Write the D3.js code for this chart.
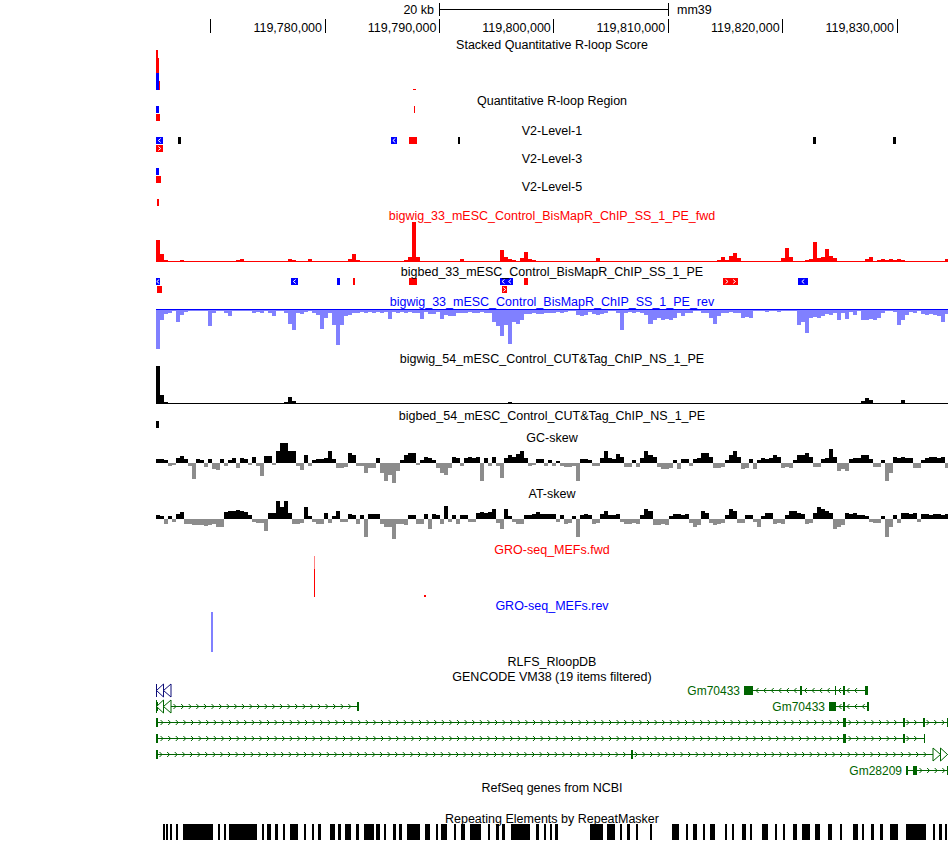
<!DOCTYPE html>
<html>
<head>
<meta charset="utf-8">
<script src="https://cdn.jsdelivr.net/npm/d3@7/dist/d3.min.js"></script>
<style>
html,body{margin:0;padding:0;background:#fff;}
svg{display:block;}
text{font-family:"Liberation Sans",Arial,Helvetica,sans-serif;font-size:12.5px;}
</style>
</head>
<body>
<svg id="chart" width="950" height="841"></svg>
<script>
// ---------------- DATA ----------------
const VIEW_START = 119765270, VIEW_END = 119834500;   // mm39 chr window
const BIN = 350;                                         // bp per signal bin
const rulerTicks  = [119770000,119780000,119790000,119800000,119810000,119820000,119830000];
const rulerLabels = ["","119,780,000","119,790,000","119,800,000","119,810,000","119,820,000","119,830,000"];
const scaleBar = [119790000,119810000];
const scaleBarLabel = "20 kb", assembly = "mm39";

// Stacked Quantitative R-loop Score
const stackStart = [119765185,119765270,119765360,119765445,119765530,119787700];
const stackEnd   = [119765270,119765360,119765445,119765530,119765620,119787960];
const stackRev   = [21,17,17,17,0,0];
const stackFwd   = [0,23,23,15,9,1];

// BED tracks: s,e,strand, cls (F = fwd R-loop, R = rev R-loop, N = unstranded), row
const qRegion = [
 {s:119765270,e:119765530,strand:".",cls:"R",row:0},
 {s:119765270,e:119765620,strand:".",cls:"F",row:1},
 {s:119787830,e:119787920,strand:".",cls:"F",row:0}];
const v2Level1 = [
 {s:119765270,e:119765880,strand:"-",cls:"R",row:0},
 {s:119767190,e:119767460,strand:".",cls:"N",row:0},
 {s:119785820,e:119786340,strand:"-",cls:"R",row:0},
 {s:119787390,e:119788090,strand:".",cls:"F",row:0},
 {s:119791670,e:119791850,strand:".",cls:"N",row:0},
 {s:119822700,e:119822970,strand:".",cls:"N",row:0},
 {s:119829700,e:119829960,strand:".",cls:"N",row:0},
 {s:119765270,e:119765880,strand:"+",cls:"F",row:1}];
const v2Level3 = [
 {s:119765270,e:119765530,strand:".",cls:"R",row:0},
 {s:119765270,e:119765710,strand:".",cls:"F",row:1}];
const v2Level5 = [
 {s:119765380,e:119765490,strand:".",cls:"F",row:0}];
const bed33 = [
 {s:119765270,e:119765620,strand:"-",cls:"R",row:0},
 {s:119777070,e:119777690,strand:"-",cls:"R",row:0},
 {s:119781100,e:119781360,strand:".",cls:"R",row:0},
 {s:119782490,e:119782670,strand:".",cls:"F",row:0},
 {s:119787390,e:119788090,strand:".",cls:"F",row:0},
 {s:119795340,e:119796480,strand:"-",cls:"R",row:0},
 {s:119797440,e:119797790,strand:".",cls:"F",row:0},
 {s:119814840,e:119816150,strand:"+",cls:"F",row:0},
 {s:119821390,e:119822270,strand:"-",cls:"R",row:0},
 {s:119765360,e:119765790,strand:".",cls:"F",row:1},
 {s:119795520,e:119795960,strand:"+",cls:"F",row:1}];
const bed54 = [
 {s:119765270,e:119765530,strand:".",cls:"N",row:0}];

// bigwig_33 fwd (350 bp bins)
const fwd33 = [22,8,2,1.5,1.5,1,2.5,0.5,0.3,0.3,
 0.3,0.3,0.3,0.3,0.5,0.3,0.5,1,1,0.5,
 2.5,3.3,1.5,0.3,1.5,1.2,0.5,0.5,1.5,1,
 0.3,1,0.5,3,2,0.5,0.5,1.5,3.5,0.5,
 1.5,1.5,1,1.5,1.5,1.2,0.5,0.5,3,8,
 2,0.3,0.3,0.3,0.5,0.3,1.5,1.5,1,0.3,
 0.3,0.5,2,5,40,5,1.5,0.5,0.3,0.3,
 0.3,0.3,0.3,0.5,0.3,0.5,3.5,1,0.3,0.3,
 0.3,0.3,0.5,1.5,1,1.5,12,5,3,2.5,
 1,4,10,3,2,0.5,0.5,1,0.5,0.3,
 0.5,0.3,0.5,0.3,0.3,0.3,0.5,1.5,0.5,1.5,
 4,1.5,0.3,0.3,0.3,0.5,0.3,0.3,1.5,1.5,
 1,0.3,0.5,0.3,0.3,0.3,0.5,1,1.5,1.5,
 1,0.3,1,0.3,0.3,0.5,0.3,0.5,0.3,0.5,
 2,5,2,6,9,4,0.3,0.3,0.3,1.5,
 1,0.3,0.3,0.5,0.3,0.5,4,14,5,1,
 0.3,0.5,2,3,20,4,5,13,6,4,
 1,0.3,1,0.3,1,0.5,1.5,3,5,1.5,
 2,3,2,3,2.5,3,2.5,1,1.5,0.5,
 1,0.3,0.3,0.3,1.5,0.5,0.3,3];
// bigwig_33 rev (magnitude)
const rev33 = [39,10,4,3,1,12,5,2,1,0.5,
 0.5,0.5,0.5,16,3,1,0.5,3,6,1,
 0.5,0.5,0.5,0.5,3,2,3,0.5,3,6,
 1,0.5,3,14,20,3,4,2,1,3,
 5,19,8,3,15,35,15,6,5,3,
 3,2,3,2,3,2,3,2,9,2,
 3,2,3,2,3,3,9,2,4,4,
 2,9,5,6,6,3,3,3,2,3,
 3,2,3,3,12,16,26,15,34,12,
 14,10,4,4,3,4,4,3,3,3,
 2,3,2,1,1,5,6,5,2,4,
 5,4,3,1,1,3,20,3,2,3,
 2,3,5,14,10,8,10,9,10,8,
 3,6,3,3,1,1,3,3,8,14,
 6,3,3,2,3,3,8,7,8,1,
 0.5,0.5,2,0.5,0.5,2,0.5,0.5,0.5,1,
 15,12,23,8,7,8,6,4,5,3,
 10,3,9,2,5,1,10,10,9,10,
 8,3,0.5,0.5,2,15,10,5,2,3,
 1,4,5,4,5,6,12,4];
// bigwig_54 CUT&Tag
const cut54 = [38,9,2,0.5,1,0,0,0,0,0,
 0,0,0,0,0,0,0,0,0,0,
 0,0,0,0,0,0,0,0,0,0,
 0,0,2,7,3,1,0,0,0,0,
 0.5,0,0,0.5,0,0,0,0,0,0.5,
 0,0,0,0,0,0,0,0,0.5,0,
 0,0,0,0,1,0.5,0,0,0,0,
 0,0,0,0,0,0,0,0,0,0,
 0,0,0,0,0,0,1,0,2.5,1.5,
 0.5,0,0,0,0,0,0,0.5,0,0,
 0,0,0,0,0,0,0,0,0,0,
 0.5,0,0,0,0,0,0,0,0,0,
 0.5,0,0,0,0,0,0,0,0,0,
 1,0,0,0,0,0,0,0,0,0,
 0,0.5,0,0,0,0,0,0,0,0,
 0,0,0.5,0,0,0,0,0,0,0,
 0.5,0,0,0,0,0,0,0,0,0,
 0,0,0,0,0,0,3,6,4,1,
 0,0,0,0,0,0,4,1,0,0,
 0,0,0,0,0,0,0,0];
// GC-skew
const gcSkew = [4,4,3,-3,-2,5,7,4,-3,-16,
 4,3,-4,4,-6,-7,4,-3,3,5,
 -5,5,4,-2,6,-3,-13,7,7,-2,
 12,20,20,12,12,-3,-7,8,-3,3,
 4,4,5,12,4,-5,-5,-4,10,8,
 -3,-3,-10,-5,-5,5,-10,-18,-12,-20,
 -8,3,8,10,10,-2,3,6,5,3,
 -5,-10,-12,-5,6,5,-3,5,6,5,
 6,-18,5,-3,6,-3,-15,5,8,6,
 9,12,5,-3,-2,4,4,-3,3,-3,
 2,-3,-4,-4,-3,-18,4,4,3,-3,
 -3,5,12,5,4,9,6,-4,-4,3,
 -4,5,12,8,6,-4,-6,-6,-5,3,
 -6,4,4,-3,4,5,10,10,6,-5,
 -5,-4,3,8,12,6,-6,-5,4,-6,
 3,5,4,5,8,6,-5,-4,-5,3,
 8,8,10,6,-4,-4,4,5,14,6,
 -8,-6,-8,4,5,5,8,8,4,-4,
 -4,3,-18,-10,6,5,6,5,5,-5,
 -5,3,5,6,6,5,6,-5];
// AT-skew
const atSkew = [4,3,-5,3,-3,5,7,-5,-5,-6,
 -6,-6,-7,-6,-5,-8,-8,7,8,8,
 9,8,7,4,-3,-4,-4,-12,6,6,
 18,12,18,6,-5,-5,-4,12,3,-3,
 -5,-5,6,-4,3,8,-3,-3,5,4,
 -5,4,-18,5,5,5,-5,-8,-8,-20,
 -5,-5,-6,4,4,-5,-5,5,-10,5,
 4,-5,13,-3,4,-5,4,4,-3,-3,
 6,7,6,7,10,-4,-10,10,3,-3,
 -5,-5,4,4,5,7,5,5,5,5,
 -3,4,-5,-4,3,-18,4,5,4,-5,
 -4,5,8,4,4,5,-3,-5,-5,-4,
 -5,4,10,8,-6,-6,-5,-6,3,5,
 5,4,5,-4,-8,-6,8,6,-4,-6,
 -5,-4,4,10,8,-4,-4,4,4,-3,
 -8,3,6,6,-5,-4,-5,4,8,8,
 6,5,-5,-4,6,12,10,8,6,-10,
 -8,-6,6,5,6,4,4,3,-3,-4,
 -4,3,-18,-8,4,-4,6,6,5,6,
 -3,5,5,4,5,5,4,5];
// GRO-seq (sparse signal: start, end, max, mean)
const groFwdStart = [119779040,119788700], groFwdEnd = [119779130,119788870];
const groFwdMax = [41,2], groFwdMean = [28,2];
const groRevStart = [119770040], groRevEnd = [119770215];
const groRevMax = [40], groRevMean = [0];

// GENCODE VM38 transcripts
const gencode = [
 {name:"", type:"coding", strand:"-", row:0, txS:119764600, txE:119765270, exons:[[119764600,119765270]]},
 {name:"Gm70433", type:"lnc", strand:"-", row:0, txS:119816670, txE:119827510,
   exons:[[119816670,119817460],[119821600,119821690],[119824590,119824670],[119825330,119825410],[119827250,119827510]]},
 {name:"", type:"lnc", strand:"+", row:1, txS:119760000, txE:119783020, exons:[[119760000,119765450],[119782840,119783020]]},
 {name:"Gm70433", type:"lnc", strand:"-", row:1, txS:119824100, txE:119827510,
   exons:[[119824100,119824710],[119825330,119825410],[119827420,119827510]]},
 {name:"", type:"lnc", strand:"+", row:2, txS:119765270, txE:119834500,
   exons:[[119765270,119765450],[119825330,119825590],[119830570,119830660],[119832320,119832410],[119834410,119834500]]},
 {name:"", type:"lnc", strand:"+", row:3, txS:119765270, txE:119832490,
   exons:[[119765270,119765450],[119825330,119825590],[119830570,119830660],[119832400,119832490]]},
 {name:"", type:"lnc", strand:"+", row:4, txS:119765270, txE:119840000,
   exons:[[119765270,119765360],[119806830,119806910]]},
 {name:"Gm28209", type:"lnc", strand:"+", row:5, txS:119830830, txE:119834500,
   exons:[[119830830,119830920],[119831440,119831790],[119834410,119834500]]}];

// RepeatMasker elements
const rmskStart = [119765880,119766140,119766490,119767020,119767630,119770690,119771210,119771650,119774540,119774970,119775670,119776370,119776980,119778210,119778910,119779430,119780480,119781180,119781790,119782750,119783450,119784500,119785200,119785990,119786510,119787210,119788780,119789740,119790180,119791320,119791930,119792720,119794290,119794990,119795510,119796300,119798490,119799190,119799710,119800150,119803210,119804690,119805830,119806440,119807230,119808450,119810370,119811600,119812210,119813080,119813700,119815010,119815620,119816490,119817190,119818240,119819380,119820080,119820950,119821740,119822870,119824010,119825060,119826190,119826980,119827770,119828550,119829430,119830830,119833190,119833710,119834240];
const rmskEnd = [119766060,119766320,119766670,119767190,119770250,119770860,119771390,119774100,119774710,119775320,119775930,119776550,119777680,119778380,119779080,119779690,119780920,119781440,119782310,119783010,119784330,119784850,119785370,119786250,119786770,119788350,119789220,119789920,119790710,119791490,119792280,119793680,119794460,119795250,119795780,119797960,119798750,119799360,119799880,119800410,119804340,119805390,119806000,119806700,119807400,119808630,119810990,119811770,119812560,119813260,119814130,119815180,119815790,119816840,119817370,119818760,119819550,119820250,119821300,119822440,119823310,119824360,119825230,119826630,119827160,119828030,119828820,119830130,119832580,119833360,119833970,119834410];

// Track titles
const titles = [
 {t:"Stacked Quantitative R-loop Score", y:48.5, c:"#000"},
 {t:"Quantitative R-loop Region", y:104.5, c:"#000"},
 {t:"V2-Level-1", y:134.5, c:"#000"},
 {t:"V2-Level-3", y:162.5, c:"#000"},
 {t:"V2-Level-5", y:190.5, c:"#000"},
 {t:"bigwig_33_mESC_Control_BisMapR_ChIP_SS_1_PE_fwd", y:219.5, c:"#ff0000"},
 {t:"bigbed_33_mESC_Control_BisMapR_ChIP_SS_1_PE", y:275.5, c:"#000"},
 {t:"bigwig_33_mESC_Control_BisMapR_ChIP_SS_1_PE_rev", y:306, c:"#0000ff"},
 {t:"bigwig_54_mESC_Control_CUT&Tag_ChIP_NS_1_PE", y:363, c:"#000"},
 {t:"bigbed_54_mESC_Control_CUT&Tag_ChIP_NS_1_PE", y:420, c:"#000"},
 {t:"GC-skew", y:441.5, c:"#000"},
 {t:"AT-skew", y:498, c:"#000"},
 {t:"GRO-seq_MEFs.fwd", y:553.5, c:"#ff0000"},
 {t:"GRO-seq_MEFs.rev", y:610, c:"#0000ff"},
 {t:"RLFS_RloopDB", y:665.5, c:"#000"},
 {t:"GENCODE VM38 (19 items filtered)", y:680.5, c:"#000"},
 {t:"RefSeq genes from NCBI", y:791.5, c:"#000"},
 {t:"Repeating Elements by RepeatMasker", y:822.5, c:"#000"}];

// ---------------- DRAWING ----------------
const svg = d3.select("#chart");
const x = d3.scaleLinear().domain([VIEW_START, VIEW_END]).range([156, 948]);
const [X0, X1] = x.range();
svg.append("defs").append("clipPath").attr("id","clip")
  .append("rect").attr("x",X0).attr("y",0).attr("width",X1-X0).attr("height",841);
const G = svg.append("g").attr("clip-path","url(#clip)").attr("shape-rendering","crispEdges");
const clsColor = {F:"#ff0000", R:"#0000ff", N:"#000000"};
const geneColor = {coding:"#0c0c78", lnc:"#006400"};

// ruler
const axis = d3.axisBottom(x).tickValues(rulerTicks).tickSize(14).tickFormat((d,i)=>rulerLabels[i]);
const ax = svg.append("g").attr("transform","translate(0,19)").attr("shape-rendering","crispEdges").call(axis);
ax.select(".domain").remove();
ax.selectAll(".tick line").attr("stroke","#000");
ax.selectAll(".tick text").attr("x",-3).attr("y",12.5).attr("dy",0)
  .attr("text-anchor","end").attr("fill","#000");
const sb = svg.append("g").attr("shape-rendering","crispEdges").attr("stroke","#000");
sb.append("line").attr("x1",Math.round(x(scaleBar[0]))+0.5).attr("x2",Math.round(x(scaleBar[1]))+0.5).attr("y1",9.5).attr("y2",9.5);
sb.selectAll("line.e").data(scaleBar).join("line").attr("class","e")
  .attr("x1",d=>Math.round(x(d))+0.5).attr("x2",d=>Math.round(x(d))+0.5).attr("y1",3).attr("y2",16);
svg.append("text").attr("x",Math.round(x(scaleBar[0]))-5).attr("y",13.5).attr("text-anchor","end").text(scaleBarLabel);
svg.append("text").attr("x",Math.round(x(scaleBar[1]))+9).attr("y",13.5).text(assembly);

// titles
svg.append("g").selectAll("text").data(titles).join("text")
  .attr("x",(X0+X1)/2).attr("y",d=>d.y).attr("text-anchor","middle").attr("fill",d=>d.c).text(d=>d.t);

// stacked score
const yStack = d3.scaleLinear().domain([0,40]).range([90,50]);
const stk = stackStart.map((s,i)=>({s, e:stackEnd[i], r:stackRev[i], f:stackFwd[i]}));
G.append("g").selectAll("rect").data(stk).join("rect")
  .attr("x",d=>x(d.s)).attr("width",d=>x(d.e)-x(d.s))
  .attr("y",d=>yStack(d.r)).attr("height",d=>yStack(0)-yStack(d.r)).attr("fill","#0000ff");
G.append("g").selectAll("rect").data(stk).join("rect")
  .attr("x",d=>x(d.s)).attr("width",d=>x(d.e)-x(d.s))
  .attr("y",d=>yStack(d.r+d.f)).attr("height",d=>yStack(d.r)-yStack(d.r+d.f)).attr("fill","#ff0000");

// BED tracks
function bedTrack(items, top) {
  const h = 7, pitch = 8;
  const g = G.append("g");
  g.selectAll("rect").data(items).join("rect")
    .attr("x",d=>x(d.s)).attr("width",d=>Math.max(1,x(d.e)-x(d.s)))
    .attr("y",d=>top+d.row*pitch).attr("height",h).attr("fill",d=>clsColor[d.cls]);
  const chev = [];
  items.filter(d=>d.strand!==".").forEach(d=>{
    const a = x(d.s), b = x(d.e), w = b-a, n = Math.max(1, Math.floor(w/6));
    const cy = top+d.row*pitch+3.5;
    for (let k=0;k<n;k++) chev.push({cx: a + w*(k+0.5)/n, cy, st:d.strand});
  });
  g.selectAll("path").data(chev).join("path")
    .attr("d",c=>{const s = c.st==="+"?1:-1; return `M${c.cx-s*1.2},${c.cy-2} L${c.cx+s*1.2},${c.cy} L${c.cx-s*1.2},${c.cy+2}`;})
    .attr("fill","none").attr("stroke","#fff").attr("stroke-width",1).attr("shape-rendering","auto");
}
bedTrack(qRegion,106);
bedTrack(v2Level1,137);
bedTrack(v2Level3,168);
bedTrack(v2Level5,199);
bedTrack(bed33,278);
bedTrack(bed54,421);

// binned wiggle bars
function wig(vals, ys, colorFn) {
  const y0 = ys(0);
  G.append("g").selectAll("rect").data(vals).join("rect")
    .attr("x",(d,i)=>x(VIEW_START+i*BIN)).attr("width",(d,i)=>x(VIEW_START+(i+1)*BIN)-x(VIEW_START+i*BIN))
    .attr("y",d=>Math.min(ys(d),y0)).attr("height",d=>Math.abs(ys(d)-y0))
    .attr("fill",colorFn);
}
const yFwd = d3.scaleLinear().domain([0,40]).range([262,222]);
wig(fwd33, yFwd, ()=>"#ff0000");
G.append("rect").attr("x",X0).attr("width",X1-X0).attr("y",yFwd(0)-1).attr("height",1).attr("fill","#ff0000");

const yRev = d3.scaleLinear().domain([0,40]).range([310,350]);
wig(rev33, yRev, ()=>"#8080ff");
G.append("rect").attr("x",X0).attr("width",X1-X0).attr("y",yRev(0)-1).attr("height",1).attr("fill","#0000ff");

const yCut = d3.scaleLinear().domain([0,40]).range([404,364]);
wig(cut54, yCut, ()=>"#000");
G.append("rect").attr("x",X0).attr("width",X1-X0).attr("y",yCut(0)-1).attr("height",1).attr("fill","#000");

const yGC = d3.scaleLinear().domain([-21,21]).range([484,442]);
wig(gcSkew, yGC, d=>d>=0?"#000":"#8c8c8c");
const yAT = d3.scaleLinear().domain([-21,21]).range([540,498]);
wig(atSkew, yAT, d=>d>=0?"#000":"#8c8c8c");

// GRO-seq
const yGroF = d3.scaleLinear().domain([0,41]).range([597,556]);
const groF = groFwdStart.map((s,i)=>({s,e:groFwdEnd[i],mx:groFwdMax[i],mn:groFwdMean[i]}));
const gf = G.append("g");
gf.selectAll("rect.mx").data(groF).join("rect").attr("class","mx")
  .attr("x",d=>x(d.s)).attr("width",d=>x(d.e)-x(d.s)).attr("y",d=>yGroF(d.mx)).attr("height",d=>yGroF(0)-yGroF(d.mx)).attr("fill","#ff8080");
gf.selectAll("rect.mn").data(groF).join("rect").attr("class","mn")
  .attr("x",d=>x(d.s)).attr("width",d=>x(d.e)-x(d.s)).attr("y",d=>yGroF(d.mn)).attr("height",d=>yGroF(0)-yGroF(d.mn)).attr("fill","#ff0000");
const yGroR = d3.scaleLinear().domain([0,40]).range([612,652]);
const groR = groRevStart.map((s,i)=>({s,e:groRevEnd[i],mx:groRevMax[i],mn:groRevMean[i]}));
const gr = G.append("g");
gr.selectAll("rect.mx").data(groR).join("rect").attr("class","mx")
  .attr("x",d=>x(d.s)).attr("width",d=>x(d.e)-x(d.s)).attr("y",yGroR(0)).attr("height",d=>yGroR(d.mx)-yGroR(0)).attr("fill","#8080ff");
gr.selectAll("rect.mn").data(groR).join("rect").attr("class","mn")
  .attr("x",d=>x(d.s)).attr("width",d=>x(d.e)-x(d.s)).attr("y",yGroR(0)).attr("height",d=>yGroR(d.mn)-yGroR(0)).attr("fill","#0000ff");

// GENCODE genes
const rowY = r => 690 + 16*r;
const gg = G.append("g");
gencode.forEach(gn=>{
  const col = geneColor[gn.type], cy = rowY(gn.row);
  const a = Math.max(X0, x(gn.txS)), b = Math.min(X1, x(gn.txE));
  const grp = gg.append("g");
  if (b > a) grp.append("rect").attr("x",a).attr("width",b-a).attr("y",cy).attr("height",1).attr("fill",col);
  // intron chevrons along every visible line segment not covered by an exon
  const ex = gn.exons.map(e=>[x(e[0]),x(e[1])]).sort((p,q)=>p[0]-q[0]);
  const marks = [];
  let cur = a;
  const leftNav = gn.txS < VIEW_START, rightNav = gn.txE > VIEW_END;
  const lim0 = leftNav ? X0+15 : a, lim1 = rightNav ? X1-15 : b;
  const gaps = [];
  ex.forEach(e=>{ if (e[0] > cur) gaps.push([cur, e[0]]); cur = Math.max(cur, e[1]); });
  if (cur < b) gaps.push([cur, b]);
  gaps.forEach(([s0,s1])=>{
    s0 = Math.max(s0, lim0); s1 = Math.min(s1, lim1);
    for (let p = s0+4; p < s1-3; p += 7.6) marks.push(p);
  });
  const sg = gn.strand==="+"?1:-1;
  grp.selectAll("path.ch").data(marks).join("path").attr("class","ch")
    .attr("d",p=>`M${p-sg*1.5},${cy-2} L${p+sg*1},${cy+0.5} L${p-sg*1.5},${cy+3}`)
    .attr("fill","none").attr("stroke",col).attr("stroke-width",1).attr("shape-rendering","auto");
  grp.selectAll("rect.ex").data(gn.exons).join("rect").attr("class","ex")
    .attr("x",e=>x(e[0])).attr("width",e=>Math.max(1.5,x(e[1])-x(e[0])))
    .attr("y",cy-4).attr("height",9).attr("fill",col);
  // navigation arrows for items running off screen
  const tri = [];
  if (leftNav) tri.push(`M${X0+7.5},${cy-6} L${X0+0.5},${cy+0.5} L${X0+7.5},${cy+7} Z`, `M${X0+15},${cy-6} L${X0+7.5},${cy+0.5} L${X0+15},${cy+7} Z`);
  if (rightNav) tri.push(`M${X1-15},${cy-6} L${X1-7.5},${cy+0.5} L${X1-15},${cy+7} Z`, `M${X1-7.5},${cy-6} L${X1-0.5},${cy+0.5} L${X1-7.5},${cy+7} Z`);
  grp.selectAll("path.nav").data(tri).join("path").attr("class","nav").attr("d",d=>d)
    .attr("fill","#fff").attr("stroke",col).attr("stroke-width",1).attr("shape-rendering","auto");
  if (leftNav) grp.append("rect").attr("x",X0).attr("width",1).attr("y",cy-6).attr("height",13).attr("fill",col);
  if (gn.name && gn.txS > VIEW_START)
    svg.append("text").attr("x",x(gn.txS)-4).attr("y",cy+5).attr("text-anchor","end")
      .attr("fill",col).style("font-size","12px").text(gn.name);
});

// RepeatMasker
G.append("g").selectAll("rect").data(rmskStart.map((s,i)=>[s,rmskEnd[i]])).join("rect")
  .attr("x",d=>x(d[0])).attr("width",d=>Math.max(1,x(d[1])-x(d[0])))
  .attr("y",824).attr("height",16).attr("fill","#000");
</script>
</body>
</html>
